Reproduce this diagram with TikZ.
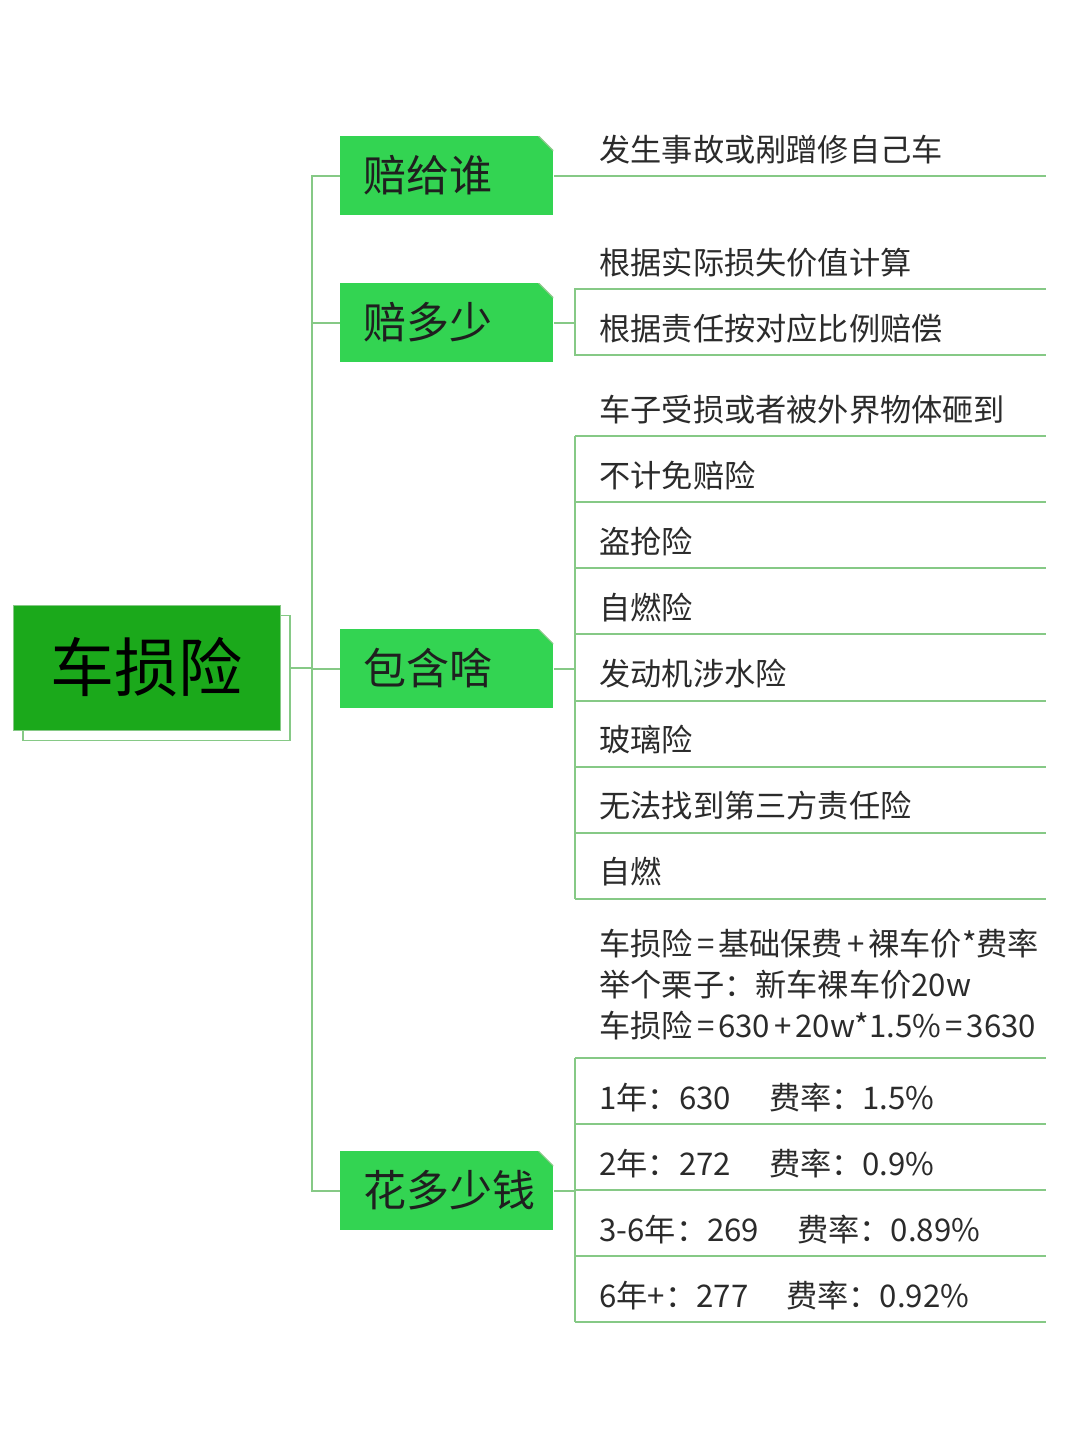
\documentclass[tikz,border=0pt]{standalone}
\usepackage{fontspec}
\setmainfont{Noto Sans CJK SC}
\usetikzlibrary{positioning}
\definecolor{rootgreen}{HTML}{1BA91B}
\definecolor{branchgreen}{HTML}{33D452}
\definecolor{linegreen}{HTML}{86C986}
\definecolor{textgray}{HTML}{2B2B2B}
\tikzset{
  link/.style={draw=linegreen, line width=1pt},
  rootbox/.style={fill=rootgreen, draw=linegreen, line width=0.5pt, minimum width=133.5pt,
    minimum height=62.5pt, inner sep=0pt, font=\fontsize{32}{36}\selectfont},
  shadowbox/.style={draw=linegreen, line width=0.7pt, fill=white, minimum width=133.5pt,
    minimum height=62.5pt, inner sep=0pt},
  branchbox/.style={anchor=west, fill=branchgreen, minimum height=39.5pt, inner xsep=11.5pt,
    inner ysep=0pt, font=\fontsize{21.5}{24}\selectfont, text=black!88,
    path picture={
      \fill[white] ([xshift=-7.5pt]path picture bounding box.north east)
        -- (path picture bounding box.north east)
        -- ([yshift=-7.5pt]path picture bounding box.north east) -- cycle;
      \draw[linegreen, line width=0.6pt] ([xshift=-7.5pt]path picture bounding box.north east)
        -- ([yshift=-7.5pt]path picture bounding box.north east);
    }},
  leaf/.style={anchor=base west, inner sep=0pt, text=textgray, font=\fontsize{15.6}{20.5}\selectfont},
}
\newcommand{\branchtext}[1]{\makebox[83.5pt][l]{#1}}
\newcommand{\op}[1]{\kern2pt#1\kern2pt}
\newcommand{\gap}{\hspace{19pt}}
\begin{document}
\begin{tikzpicture}[x=0.5pt,y=-0.5pt]
\useasboundingbox (0,0) rectangle (1080,1440);

% Root with its offset outline
\node[shadowbox] (rootshadow) at (156.5,678) {};
\node[rootbox] (root) at (146.5,667.5) {车损险};

% Branches
\node[branchbox] (who)   at (340,175.5)  {\branchtext{赔给谁}};
\node[branchbox] (much)  at (340,322.5)  {\branchtext{赔多少}};
\node[branchbox] (cover) at (340,668.5)  {\branchtext{包含啥}};
\node[branchbox] (cost)  at (340,1190.5) {\branchtext{花多少钱}};

% Trunk
\coordinate (trunk) at (312,667.5);
\draw[link] (rootshadow.east |- root.east) -- (trunk);
\foreach \b in {who,much,cover,cost}
  \draw[link] (trunk) |- (\b.west);

% 赔给谁
\node[leaf] (who1) at (599,161) {发生事故或剐蹭修自己车};
\draw[link] (who.east) -- (1046,175.5);

% 赔多少
\node[leaf] (much1) at (599,274) {根据实际损失价值计算};
\node[leaf] (much2) at (599,340) {根据责任按对应比例赔偿};
\draw[link] (much.east) -- (575,322.5);
\draw[link] (1046,289) -- (575,289) -- (575,355) -- (1046,355);

% 包含啥
\foreach \t [count=\i] in {车子受损或者被外界物体砸到,不计免赔险,盗抢险,自燃险,
    发动机涉水险,玻璃险,无法找到第三方责任险,自燃} {
  \pgfmathsetmacro\ly{436+66.14*(\i-1)}
  \node[leaf] (cover\i) at (599,\ly-15) {\t};
  \draw[link] (575,\ly) -- (1046,\ly);
}
\draw[link] (cover.east) -- (575,668.5);
\draw[link] (575,436) -- (575,899);

% 花多少钱
\node[leaf, align=left, anchor=north west] (cost0) at (599,929)
  {车损险\op{=}基础保费\op{+}裸车价*费率\\举个栗子：新车裸车价20w\\车损险\op{=}630\op{+}20w*1.5\%\op{=}3630};
\draw[link] (575,1058) -- (1046,1058);
\foreach \t [count=\i] in {1年：630\gap 费率：1.5\%,2年：272\gap 费率：0.9\%,
    3-6年：269\gap 费率：0.89\%,6年+：277\gap 费率：0.92\%} {
  \pgfmathsetmacro\ly{1124+66*(\i-1)}
  \node[leaf] (cost\i) at (599,\ly-15) {\t};
  \draw[link] (575,\ly) -- (1046,\ly);
}
\draw[link] (cost.east) -- (575,1190.5);
\draw[link] (575,1058) -- (575,1322);
\end{tikzpicture}
\end{document}
